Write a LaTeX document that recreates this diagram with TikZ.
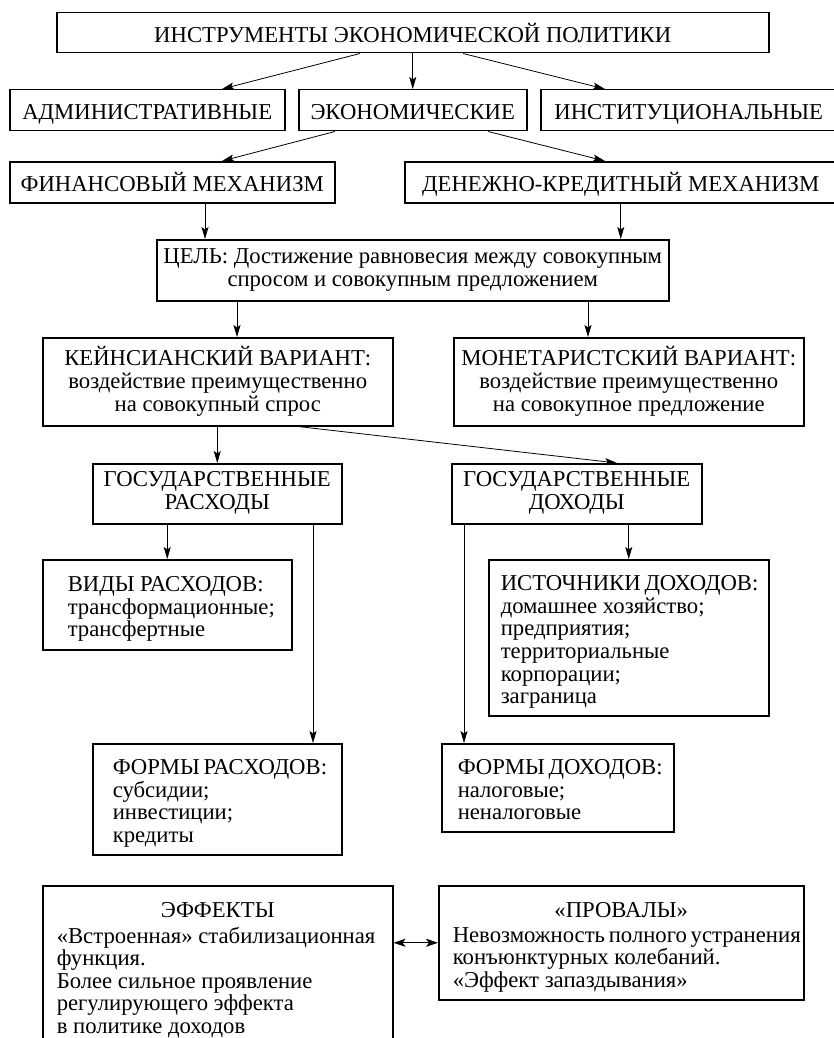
\documentclass[tikz,border=0pt]{standalone}
\usepackage{fontspec}
\setmainfont{Liberation Serif}
\usetikzlibrary{arrows.meta}
\begin{document}
\begin{tikzpicture}[x=1pt,y=-1pt,
        >={Stealth[length=12pt,width=7pt,inset=2.5pt]},
        box/.style={draw,line width=1.5pt,anchor=north west,inner sep=0pt,
            font=\fontsize{22.7}{23}\selectfont,align=center,
            execute at begin node={\rule{0pt}{24.8pt}},
            execute at end node={\rule[-6pt]{0pt}{0pt}}},
        listbox/.style={box,align=flush left,font=\fontsize{22.7}{22.6}\selectfont},
        link/.style={->,line width=0.8pt}]
        \useasboundingbox (0,0) rectangle (834,1038);
        \clip (0,0) rectangle (834,1038);
        \node[box,minimum width=712,minimum height=40] (tools) at (56,12) {ИНСТРУМЕНТЫ ЭКОНОМИЧЕСКОЙ ПОЛИТИКИ};
        \node[box,minimum width=275,minimum height=41] (admin) at (9,89) {АДМИНИСТРАТИВНЫЕ};
        \node[box,minimum width=228,minimum height=41] (econ) at (298,89) {ЭКОНОМИЧЕСКИЕ};
        \node[box,minimum width=296,minimum height=41] (inst) at (540,89) {ИНСТИТУЦИОНАЛЬНЫЕ};
        \node[box,minimum width=325,minimum height=41] (fin) at (9,161) {ФИНАНСОВЫЙ МЕХАНИЗМ};
        \node[box,minimum width=432,minimum height=41] (money) at (404,161) {ДЕНЕЖНО-КРЕДИТНЫЙ МЕХАНИЗМ};
        \node[box,minimum width=512,minimum height=61] (goal) at (156,239) {ЦЕЛЬ: Достижение равновесия между совокупным\\ спросом и совокупным предложением};
        \node[box,minimum width=350,minimum height=88] (keyn) at (42,337) {КЕЙНСИАНСКИЙ ВАРИАНТ:\\ воздействие преимущественно\\ на совокупный спрос};
        \node[box,minimum width=350,minimum height=88] (monet) at (453,337) {МОНЕТАРИСТСКИЙ ВАРИАНТ:\\ воздействие преимущественно\\ на совокупное предложение};
        \node[box,minimum width=249,minimum height=60] (spend) at (92,463) {ГОСУДАРСТВЕННЫЕ\\ РАСХОДЫ};
        \node[box,minimum width=250,minimum height=60] (income) at (451,463) {ГОСУДАРСТВЕННЫЕ\\ ДОХОДЫ};
        \node[listbox,inner xsep=25,text width=199,minimum height=90] (kinds) at (42,559) {ВИДЫ~РАСХОДОВ:\\ трансформационные;\\ трансфертные};
        \node[listbox,inner xsep=12,text width=256,minimum height=156] (sources) at (488,559) {ИСТОЧНИКИ~ДОХОДОВ:\\ домашнее~хозяйство;\\ предприятия;\\ территориальные\\ корпорации;\\ заграница};
        \node[listbox,inner xsep=20,text width=209,minimum height=111] (spendforms) at (92,743) {ФОРМЫ~РАСХОДОВ:\\ субсидии;\\ инвестиции;\\ кредиты};
        \node[listbox,inner xsep=16,text width=200,minimum height=88] (incomeforms) at (441,743) {ФОРМЫ~ДОХОДОВ:\\ налоговые;\\ неналоговые};
        \node[listbox,inner xsep=14,text width=322,minimum height=161] (effects) at (42,885) {{\centering ЭФФЕКТЫ\par}\vspace{2.5pt}«Встроенная»~стабилизационная\\ функция.\\ Более~сильное~проявление\\ регулирующего~эффекта\\ в~политике~доходов};
        \node[listbox,inner xsep=14,text width=337,minimum height=114] (fails) at (438,885) {{\centering «ПРОВАЛЫ»\par}\vspace{2.5pt}Невозможность~полного~устранения\\ конъюнктурных~колебаний.\\ «Эффект~запаздывания»};
        \draw[link] (tools.south -| 360,0) -- (admin.north -| 222,0);
        \draw[link] (tools.south -| econ.north) -- (econ.north);
        \draw[link] (tools.south -| 463,0) -- (inst.north -| 605,0);
        \draw[link] (econ.south -| 335,0) -- (fin.north -| 222,0);
        \draw[link] (econ.south -| 488,0) -- (money.north -| 605,0);
        \draw[link] (fin.south -| 205,0) -- (goal.north -| 205,0);
        \draw[link] (money.south) -- (money.south |- goal.north);
        \draw[link] (goal.south -| 237,0) -- (keyn.north -| 237,0);
        \draw[link] (goal.south -| 588,0) -- (monet.north -| 588,0);
        \draw[link] (keyn.south -| spend.north) -- (spend.north);
        \draw[link] (keyn.south -| 298,0) -- (income.north -| 617,0);
        \draw[link] (spend.south -| kinds.north) -- (kinds.north);
        \draw[link] (spend.south -| 313,0) -- (spendforms.north -| 313,0);
        \draw[link] (income.south -| 464,0) -- (incomeforms.north -| 464,0);
        \draw[link] (income.south -| sources.north) -- (sources.north);
        \draw[link,<->,>={Stealth[length=12pt,width=8pt,inset=3pt]}] (fails.west -| effects.east) -- (fails.west);
\end{tikzpicture}
\end{document}
